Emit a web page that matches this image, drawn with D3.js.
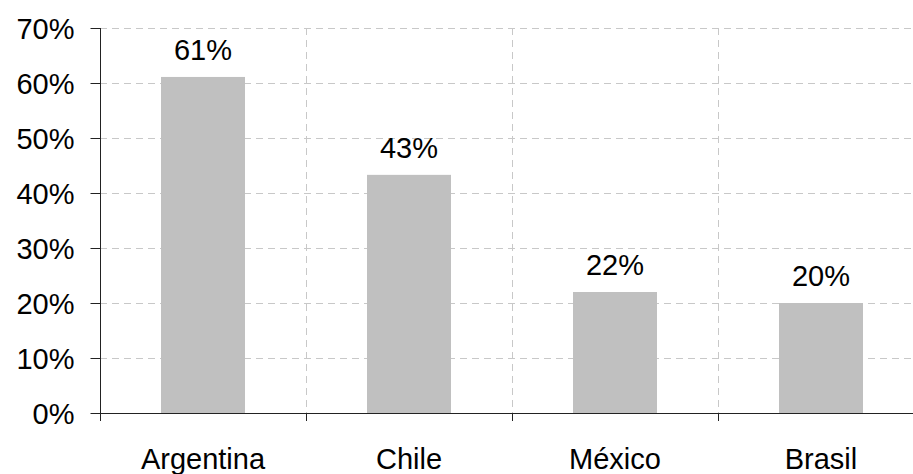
<!DOCTYPE html>
<html><head><meta charset="utf-8">
<script src="https://cdn.jsdelivr.net/npm/d3@7"></script>
<style>html,body{margin:0;padding:0;background:#fff;overflow:hidden}svg{display:block}</style>
</head><body>
<svg id="c" width="913" height="474"></svg>
<script>
const categories = ["Argentina", "Chile", "México", "Brasil"];
const values = [61.1, 43.3, 22.0, 20.0];
const yTicks = [0, 10, 20, 30, 40, 50, 60, 70];

(function () {
const svg = d3.select("#c");
const font = "'Liberation Sans', Arial, Helvetica, sans-serif";
const pLeft = 100, pRight = 924, pTop = 28, pBottom = 413;

const x = d3.scaleBand().domain(categories).range([pLeft, pRight]).padding(0);
const y = d3.scaleLinear().domain([0, 70]).range([pBottom, pTop]);

// horizontal gridlines
svg.append("g").selectAll("line").data(yTicks.filter(d => d > 0)).join("line")
  .attr("x1", pLeft).attr("x2", pRight)
  .attr("y1", d => Math.round(y(d)) + 0.5).attr("y2", d => Math.round(y(d)) + 0.5)
  .attr("stroke", "#c8c8c8").attr("stroke-width", 1).attr("stroke-dasharray", "7,5");

// vertical gridlines at band boundaries
const bounds = categories.slice(1).map(c => x(c));
svg.append("g").selectAll("line").data(bounds).join("line")
  .attr("x1", d => Math.round(d) + 0.5).attr("x2", d => Math.round(d) + 0.5)
  .attr("y1", pTop).attr("y2", pBottom)
  .attr("stroke", "#c8c8c8").attr("stroke-width", 1).attr("stroke-dasharray", "7,5");

// bars
const bw = 84;
svg.append("g").selectAll("rect").data(categories).join("rect")
  .attr("x", (d) => x(d) + x.bandwidth() / 2 - bw / 2)
  .attr("width", bw)
  .attr("y", (d, i) => y(values[i]))
  .attr("height", (d, i) => y(0) - y(values[i]))
  .attr("fill", "#c0c0c0");

// value labels
svg.append("g").selectAll("text").data(categories).join("text")
  .attr("x", d => x(d) + x.bandwidth() / 2)
  .attr("y", (d, i) => y(values[i]) - 17)
  .attr("text-anchor", "middle")
  .attr("font-family", font).attr("font-size", 29).attr("fill", "#000")
  .text((d, i) => Math.round(values[i]) + "%");

// y axis
const yAxis = d3.axisLeft(y).tickValues(yTicks).tickFormat(d => d + "%").tickSize(10).tickPadding(16);
const gy = svg.append("g").attr("transform", `translate(${pLeft + 0.5},0)`).call(yAxis);
gy.select(".domain").attr("stroke", "#222").attr("d", `M0,${pTop}V${pBottom}`);
gy.selectAll(".tick line").attr("stroke", "#222");
gy.selectAll(".tick text").attr("font-family", font).attr("font-size", 29).attr("fill", "#000").attr("dy", "0.36em");

// x axis
const gx = svg.append("g");
gx.append("line").attr("x1", pLeft).attr("x2", pRight)
  .attr("y1", pBottom + 0.5).attr("y2", pBottom + 0.5).attr("stroke", "#222");
const tickPos = [pLeft].concat(bounds);
gx.selectAll("line.t").data(tickPos).join("line").attr("class", "t")
  .attr("x1", d => Math.round(d) + 0.5).attr("x2", d => Math.round(d) + 0.5)
  .attr("y1", pBottom).attr("y2", pBottom + 8).attr("stroke", "#222");
svg.append("g").selectAll("text").data(categories).join("text")
  .attr("x", d => x(d) + x.bandwidth() / 2)
  .attr("y", 469)
  .attr("text-anchor", "middle")
  .attr("font-family", font).attr("font-size", 29).attr("fill", "#000")
  .text(d => d);
})();
</script>
</body></html>
